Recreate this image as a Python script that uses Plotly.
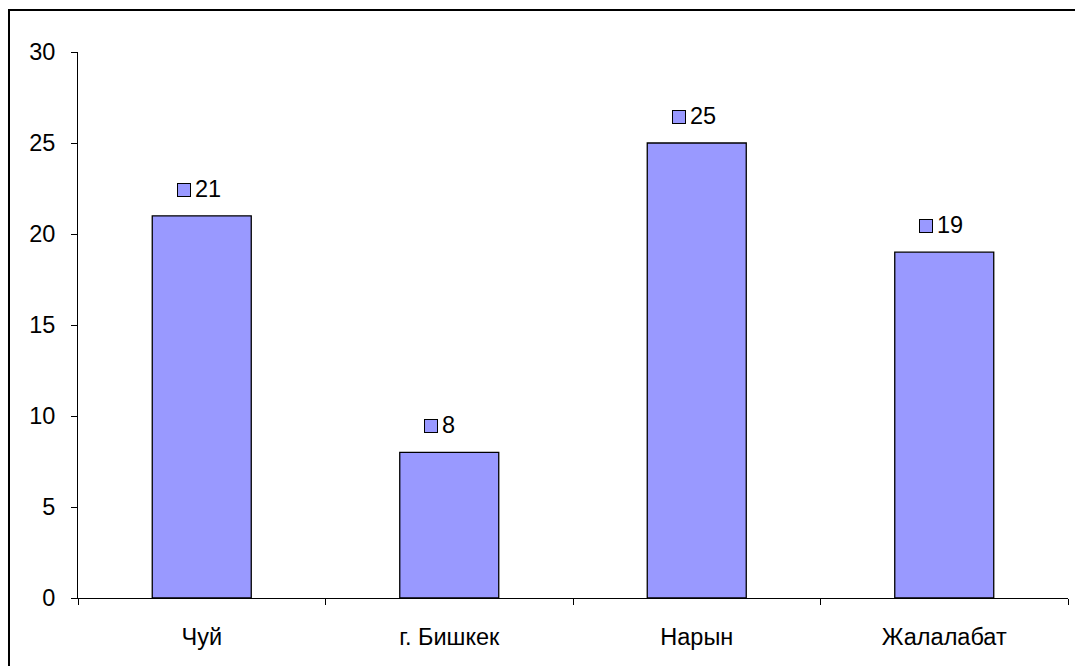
import plotly.graph_objects as go

regions = ["Чуй", "г. Бишкек", "Нарын", "Жалалабат"]
counts = [21, 8, 25, 19]
y_ticks = [0, 5, 10, 15, 20, 25, 30]

bar_fill = "#9999FF"
font = dict(family="Liberation Sans, Arial, sans-serif", size=23.5, color="black")

fig = go.Figure()
fig.add_trace(go.Bar(
    x=regions, y=counts,
    marker=dict(color=bar_fill, line=dict(color="black", width=1.3)),
    hoverinfo="skip",
))

# value labels: a small legend-style key square followed by the number
annotations = []
for cat, val in zip(regions, counts):
    annotations.append(dict(
        x=cat, y=val, xref="x", yref="y", text="", showarrow=False,
        width=12, height=12, bgcolor=bar_fill, bordercolor="black",
        borderwidth=1, borderpad=0, xshift=-18, yshift=26,
    ))
    annotations.append(dict(
        x=cat, y=val, xref="x", yref="y", text=str(val), showarrow=False,
        xanchor="left", yanchor="middle", xshift=-9, yshift=27, font=font,
    ))

fig.update_layout(
    width=1075, height=666,
    margin=dict(l=78, r=7, t=52, b=68),
    paper_bgcolor="white", plot_bgcolor="white",
    showlegend=False, bargap=0.6, font=font,
    annotations=annotations,
    shapes=[dict(
        type="rect", xref="paper", yref="paper",
        x0=-0.0697, x1=1.2, y0=-0.3, y1=1.0769,
        line=dict(color="black", width=2), fillcolor="rgba(0,0,0,0)",
        layer="below",
    )],
    xaxis=dict(
        showline=True, linecolor="black", linewidth=1,
        ticks="outside", tickson="boundaries", ticklen=6, tickcolor="black",
        showgrid=False, ticklabelstandoff=18, tickfont=font,
    ),
    yaxis=dict(
        range=[0, 30], tickvals=y_ticks, showline=True, linecolor="black",
        linewidth=1, ticks="outside", ticklen=6, tickcolor="black",
        showgrid=False, zeroline=False, ticklabelstandoff=11, tickfont=font,
    ),
)

fig.write_html("out.html")
